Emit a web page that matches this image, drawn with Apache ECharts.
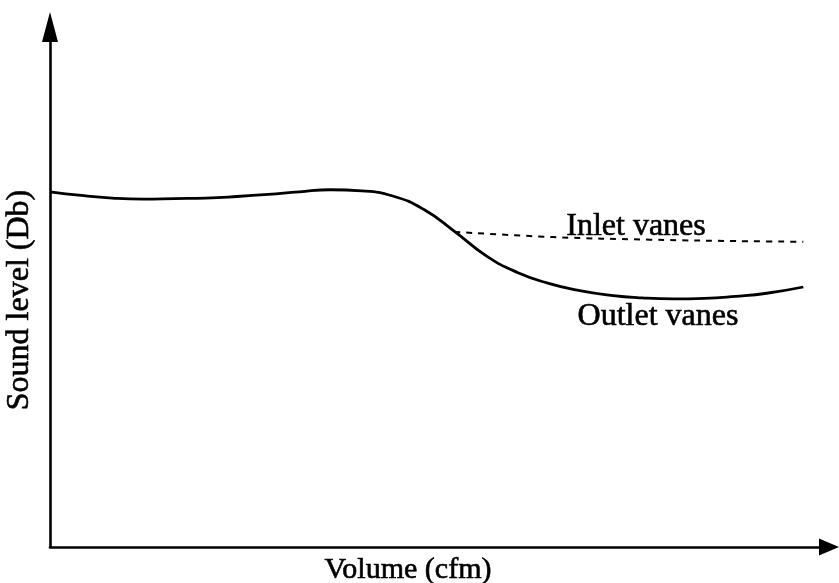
<!DOCTYPE html>
<html>
<head>
<meta charset="utf-8">
<script src="https://cdn.jsdelivr.net/npm/echarts@6/dist/echarts.min.js"></script>
<style>
  html, body { margin: 0; padding: 0; background: #fff; }
  #chart { width: 839px; height: 583px; }
</style>
</head>
<body>
<div id="chart"></div>
<script>
// Fan sound level versus air volume (qualitative, relative units 0–100)
const volume = [0, 4, 8, 12, 16, 20, 24, 28, 32, 36, 40, 44, 48, 52, 56, 60, 64, 68, 72, 76, 80, 84, 88, 92, 96.7];
const outletVanes = [68.3, 67.6, 67.1, 66.9, 67.0, 67.1, 67.4, 67.8, 68.3, 68.7, 68.5, 67.5, 64.9, 60.6, 56.0, 52.8, 50.7, 49.3, 48.4, 47.9, 47.7, 47.8, 48.2, 48.8, 50.0];

const inletVolume = [51.9, 64.6, 77.0, 89.9, 96.7];
const inletVanes = [60.6, 59.6, 59.1, 58.8, 58.7];

const xTitle = 'Volume (cfm)';
const yTitle = 'Sound level (Db)';
const inletName = 'Inlet vanes';
const outletName = 'Outlet vanes';

const serif = '"Liberation Serif", "Times New Roman", serif';

const pairs = (xs, ys) => xs.map((x, i) => [x, ys[i]]);

const chart = echarts.init(document.getElementById('chart'), null, { renderer: 'canvas' });

// Serif labels with a hairline outline so they read as heavy print
const label = (text, x, y, size, rotation) => ({
  type: 'text', x, y, rotation: rotation || 0,
  style: {
    text, font: size + 'px ' + serif, fill: '#000',
    stroke: '#000', lineWidth: 0.6,
    align: 'center', verticalAlign: 'middle'
  }
});

chart.setOption({
  animation: false,
  backgroundColor: '#ffffff',
  grid: { left: 50, right: 10, top: 27, bottom: 36 },
  xAxis: {
    type: 'value', min: 0, max: 100,
    axisLine: {
      show: true,
      symbol: ['none', 'triangle'],
      symbolSize: [17, 20],
      lineStyle: { color: '#000', width: 2.6 }
    },
    axisTick: { show: false },
    axisLabel: { show: false },
    splitLine: { show: false }
  },
  yAxis: {
    type: 'value', min: 0, max: 100,
    axisLine: {
      show: true,
      symbol: ['none', 'triangle'],
      symbolSize: [16, 30],
      lineStyle: { color: '#000', width: 2.6 }
    },
    axisTick: { show: false },
    axisLabel: { show: false },
    splitLine: { show: false }
  },
  series: [
    {
      name: outletName,
      type: 'line',
      data: pairs(volume, outletVanes),
      smooth: 0.5,
      showSymbol: false,
      lineStyle: { color: '#000', width: 2.8 }
    },
    {
      name: inletName,
      type: 'line',
      data: pairs(inletVolume, inletVanes),
      smooth: 0.4,
      showSymbol: false,
      lineStyle: { color: '#000', width: 2, type: [6, 6] }
    }
  ],
  graphic: [
    label(yTitle, 20, 300, 32, Math.PI / 2),
    label(xTitle, 408, 570, 30),
    label(inletName, 636, 227, 32),
    label(outletName, 658, 317, 32)
  ]
});
</script>
</body>
</html>
